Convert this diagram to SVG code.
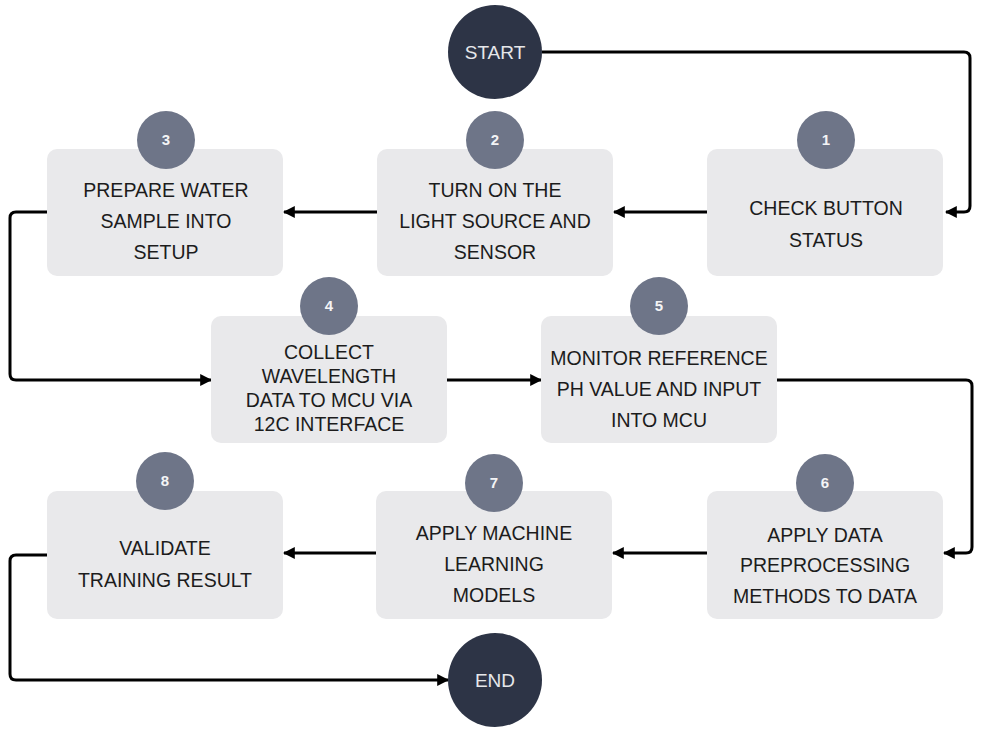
<svg xmlns="http://www.w3.org/2000/svg" width="983" height="731" viewBox="0 0 983 731">
<defs>
<marker id="ah" viewBox="0 0 10 10" refX="9" refY="5" markerWidth="4" markerHeight="4" orient="auto-start-reverse" markerUnits="strokeWidth">
<path d="M0,0 L10,5 L0,10 z" fill="#000"/>
</marker>
<style>
.box{fill:#e9e9eb;}
.badge{fill:#6e7588;}
.term{fill:#2d3446;}
.t{font-family:"Liberation Sans",Arial,sans-serif;font-size:19.5px;fill:#1c1c1c;text-anchor:middle;}
.n{font-family:"Liberation Sans",Arial,sans-serif;font-size:15px;font-weight:bold;fill:#f4f4f6;text-anchor:middle;}
.tt{font-family:"Liberation Sans",Arial,sans-serif;font-size:19px;fill:#e6e7ea;text-anchor:middle;}
.c{fill:none;stroke:#000;stroke-width:3;stroke-linejoin:round;marker-end:url(#ah);}
</style>
</defs>
<rect width="983" height="731" fill="#fff"/>
<g id="connectors">
<path class="c" d="M542,52 H964 Q970,52 970,58 V206 Q970,212 964,212 H946"/>
<path class="c" d="M707,212 H614"/>
<path class="c" d="M377,212 H284"/>
<path class="c" d="M47,212 H16 Q10,212 10,218 V374 Q10,380 16,380 H211"/>
<path class="c" d="M447,380 H541"/>
<path class="c" d="M777,380 H966 Q972,380 972,386 V547 Q972,553 966,553 H944"/>
<path class="c" d="M707,553 H613"/>
<path class="c" d="M376,553 H284"/>
<path class="c" d="M47,555 H16 Q10,555 10,561 V674 Q10,680 16,680 H448"/>
</g>
<g id="start">
<circle class="term" cx="495" cy="52" r="47"/>
<text class="tt" x="495" y="59">START</text>
</g>
<g id="step1">
<rect class="box" x="707" y="149" width="236" height="127" rx="10"/>
<circle class="badge" cx="826" cy="140" r="29"/>
<text class="n" x="826" y="145">1</text>
<text class="t" x="826" y="215">CHECK BUTTON</text>
<text class="t" x="826" y="247">STATUS</text>
</g>
<g id="step2">
<rect class="box" x="377" y="149" width="236" height="127" rx="10"/>
<circle class="badge" cx="495" cy="140" r="29"/>
<text class="n" x="495" y="145">2</text>
<text class="t" x="495" y="197">TURN ON THE</text>
<text class="t" x="495" y="228">LIGHT SOURCE AND</text>
<text class="t" x="495" y="259">SENSOR</text>
</g>
<g id="step3">
<rect class="box" x="47" y="149" width="236" height="127" rx="10"/>
<circle class="badge" cx="166" cy="140" r="29"/>
<text class="n" x="166" y="145">3</text>
<text class="t" x="166" y="197">PREPARE WATER</text>
<text class="t" x="166" y="228">SAMPLE INTO</text>
<text class="t" x="166" y="259">SETUP</text>
</g>
<g id="step4">
<rect class="box" x="211" y="316" width="236" height="127" rx="10"/>
<circle class="badge" cx="329" cy="306" r="29"/>
<text class="n" x="329" y="311">4</text>
<text class="t" x="329" y="359">COLLECT</text>
<text class="t" x="329" y="383">WAVELENGTH</text>
<text class="t" x="329" y="407">DATA TO MCU VIA</text>
<text class="t" x="329" y="431">12C INTERFACE</text>
</g>
<g id="step5">
<rect class="box" x="541" y="316" width="236" height="127" rx="10"/>
<circle class="badge" cx="659" cy="306" r="29"/>
<text class="n" x="659" y="311">5</text>
<text class="t" x="659" y="365">MONITOR REFERENCE</text>
<text class="t" x="659" y="396">PH VALUE AND INPUT</text>
<text class="t" x="659" y="427">INTO MCU</text>
</g>
<g id="step6">
<rect class="box" x="707" y="491" width="236" height="128" rx="10"/>
<circle class="badge" cx="825" cy="483" r="29"/>
<text class="n" x="825" y="488">6</text>
<text class="t" x="825" y="542">APPLY DATA</text>
<text class="t" x="825" y="572">PREPROCESSING</text>
<text class="t" x="825" y="603">METHODS TO DATA</text>
</g>
<g id="step7">
<rect class="box" x="376" y="491" width="236" height="128" rx="10"/>
<circle class="badge" cx="494" cy="483" r="29"/>
<text class="n" x="494" y="488">7</text>
<text class="t" x="494" y="540">APPLY MACHINE</text>
<text class="t" x="494" y="571">LEARNING</text>
<text class="t" x="494" y="602">MODELS</text>
</g>
<g id="step8">
<rect class="box" x="47" y="491" width="236" height="128" rx="10"/>
<circle class="badge" cx="165" cy="481" r="29"/>
<text class="n" x="165" y="486">8</text>
<text class="t" x="165" y="555">VALIDATE</text>
<text class="t" x="165" y="587">TRAINING RESULT</text>
</g>
<g id="end">
<circle class="term" cx="495" cy="680" r="47"/>
<text class="tt" x="495" y="687">END</text>
</g>
</svg>
